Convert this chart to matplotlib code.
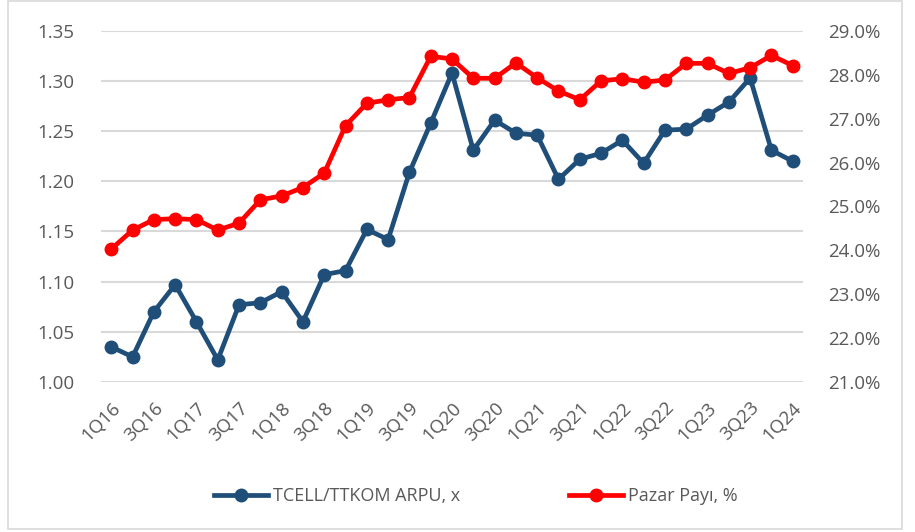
import numpy as np
import matplotlib
matplotlib.use("Agg")
import matplotlib.pyplot as plt
from matplotlib.ticker import FuncFormatter
from matplotlib.patches import Rectangle

plt.rcParams['font.family'] = ['Open Sans', 'DejaVu Sans']

# quarters 1Q16 .. 1Q24
quarters = [f"{q}Q{y}" for y in range(16, 24) for q in range(1, 5)] + ["1Q24"]

arpu = [1.035, 1.025, 1.070, 1.097, 1.060, 1.022, 1.077, 1.079, 1.090, 1.060,
        1.107, 1.111, 1.152, 1.142, 1.209, 1.258, 1.308, 1.231, 1.261, 1.248,
        1.246, 1.202, 1.222, 1.228, 1.241, 1.218, 1.251, 1.252, 1.266, 1.279,
        1.303, 1.231, 1.220]

pazar = [24.03, 24.46, 24.70, 24.72, 24.70, 24.46, 24.62, 25.15, 25.24, 25.43,
         25.76, 26.84, 27.35, 27.43, 27.48, 28.42, 28.36, 27.92, 27.92, 28.27,
         27.93, 27.63, 27.43, 27.86, 27.91, 27.83, 27.88, 28.26, 28.26, 28.03,
         28.16, 28.44, 28.21]

left_ticks = [1.00, 1.05, 1.10, 1.15, 1.20, 1.25, 1.30, 1.35]
right_ticks = [21, 22, 23, 24, 25, 26, 27, 28, 29]

blue = '#1F4E79'
red = '#FF0000'
grey = '#595959'

fig = plt.figure(figsize=(9.15, 5.32), dpi=100)
ax = fig.add_axes([0.110, 0.282, 0.768, 0.660])
ax2 = ax.twinx()

x = np.arange(len(quarters))
l1, = ax.plot(x, arpu, color=blue, lw=3.4, marker='o', ms=9, zorder=3,
              label='TCELL/TTKOM ARPU, x')
l2, = ax2.plot(x, pazar, color=red, lw=3.4, marker='o', ms=9, zorder=3,
               label='Pazar Payı, %')

ax.set_xlim(-0.5, len(quarters) - 0.5)
ax.set_ylim(1.00, 1.35)
ax.set_yticks(left_ticks)
ax.yaxis.set_major_formatter(FuncFormatter(lambda v, p: f"{v:.2f}"))
ax2.set_ylim(21, 29)
ax2.set_yticks(right_ticks)
ax2.yaxis.set_major_formatter(FuncFormatter(lambda v, p: f"{v:.1f}%"))

ax.set_xticks(x[::2])
ax.set_xticklabels(quarters[::2], rotation=45, ha='right', va='top',
                   rotation_mode='anchor')

ax.grid(axis='y', color='#D9D9D9', lw=1.5)
ax.set_axisbelow(True)
for a in (ax, ax2):
    for s in a.spines.values():
        s.set_visible(False)
    a.tick_params(length=0, colors=grey, labelsize=13.5)
ax.tick_params(axis='y', pad=19)
ax2.tick_params(axis='y', pad=18)
ax.tick_params(axis='x', pad=12)

fig.legend(handles=[l1, l2], loc='center', bbox_to_anchor=(0.52, 0.068),
           ncol=2, frameon=False, fontsize=13, labelcolor=grey,
           handlelength=3.0, columnspacing=6, handletextpad=0.3)

fig.patches.append(Rectangle((0.009, 0.006), 0.977, 0.992, transform=fig.transFigure,
                             fill=False, edgecolor='#D9D9D9', lw=1.2))

fig.savefig('out.png', dpi=100)
